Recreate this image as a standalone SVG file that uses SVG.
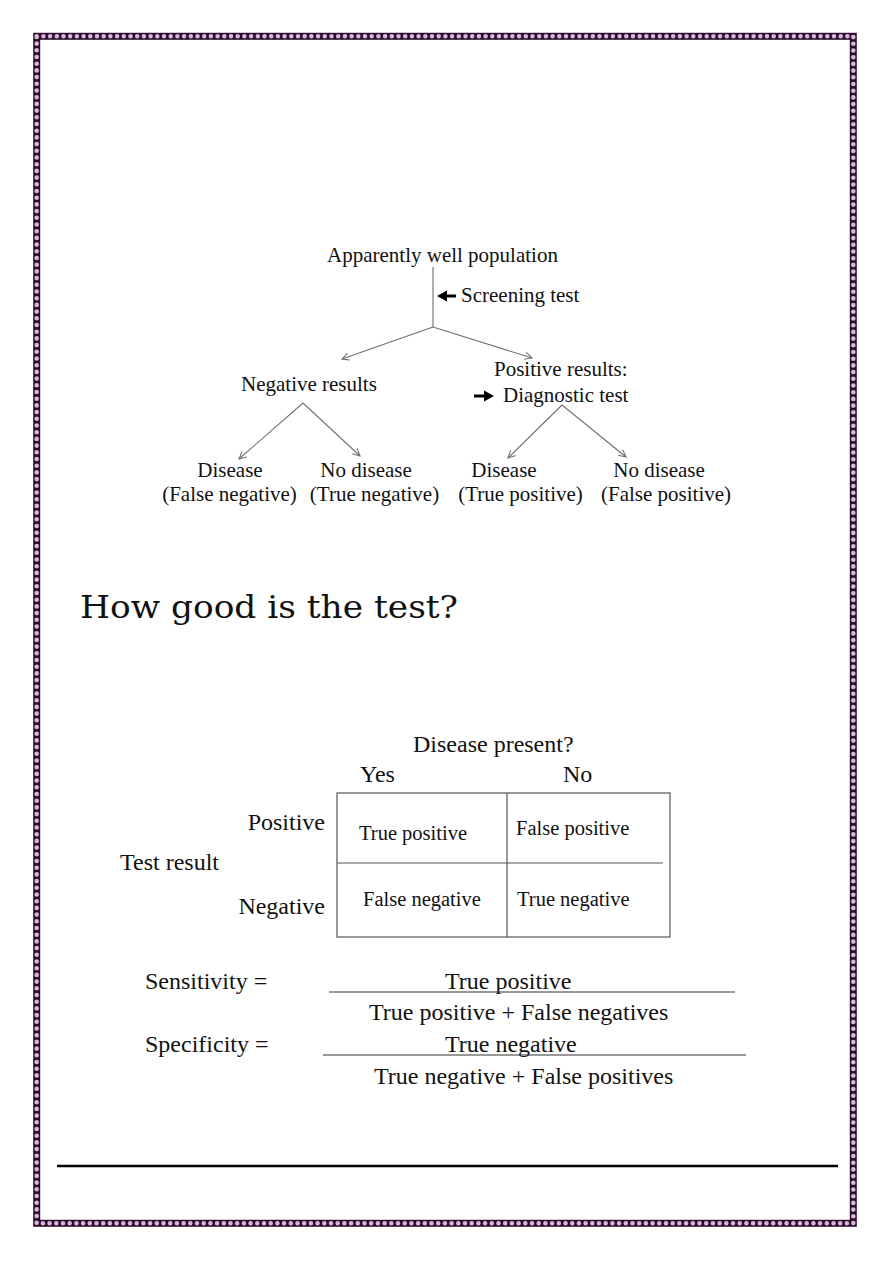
<svg xmlns="http://www.w3.org/2000/svg" width="893" height="1263" viewBox="0 0 893 1263">
<style>
.t{font-family:"Liberation Serif","Times New Roman",serif;fill:#111}
.s21{font-size:21px}
.s24{font-size:24px}
.s20{font-size:20.5px}
.m{text-anchor:middle}
.e{text-anchor:end}
.br{stroke:#707070;stroke-width:1.1;fill:none}
.tb{stroke:#555;stroke-width:1.2;fill:none}
.fr{stroke:#333;stroke-width:1.2;fill:none}
</style>
<defs>
<marker id="ah" viewBox="0 0 10 10" refX="9" refY="5" markerWidth="9" markerHeight="9" markerUnits="userSpaceOnUse" orient="auto">
<path d="M1,1 L9,5 L1,9" fill="none" stroke="#707070" stroke-width="1.2"/>
</marker>
</defs>
<rect width="893" height="1263" fill="#fff"/>
<g id="border">
<rect x="36.7" y="36.3" width="816.6" height="1187" fill="none" stroke="#2b0d2b" stroke-width="7"/>
<rect x="36.7" y="36.3" width="816.6" height="1187" fill="none" stroke="#d8b6dc" stroke-width="4.6" stroke-linecap="round" stroke-dasharray="0 6.7"/>
</g>
<g id="connectors">
<line class="br" x1="433" y1="267" x2="433" y2="327"/>
<line class="br" x1="433" y1="327" x2="342" y2="359" marker-end="url(#ah)"/>
<line class="br" x1="433" y1="327" x2="532" y2="358" marker-end="url(#ah)"/>
<line class="br" x1="303" y1="403" x2="239" y2="459" marker-end="url(#ah)"/>
<line class="br" x1="303" y1="403" x2="360" y2="456" marker-end="url(#ah)"/>
<line class="br" x1="562" y1="405" x2="508" y2="458" marker-end="url(#ah)"/>
<line class="br" x1="562" y1="405" x2="626" y2="457" marker-end="url(#ah)"/>
<path d="M456,296 H445" stroke="#000" stroke-width="3"/>
<path d="M437,296 L447,290.5 L447,301.5 Z" fill="#000"/>
<path d="M474,396 H485" stroke="#000" stroke-width="3"/>
<path d="M494,396 L484,390.5 L484,401.5 Z" fill="#000"/>
</g>
<g id="n-population"><text class="t s21" x="327" y="262">Apparently well population</text></g>
<g id="n-screening"><text class="t s21" x="461" y="302">Screening test</text></g>
<g id="n-negative"><text class="t s21" x="241" y="391">Negative results</text></g>
<g id="n-positive"><text class="t s21" x="494" y="376">Positive results:</text><text class="t s21" x="503" y="402">Diagnostic test</text></g>
<g id="n-fn"><text class="t s21 m" x="230" y="477">Disease</text><text class="t s21 m" x="229.5" y="501">(False negative)</text></g>
<g id="n-tn"><text class="t s21 m" x="366" y="477">No disease</text><text class="t s21 m" x="374.5" y="501">(True negative)</text></g>
<g id="n-tp"><text class="t s21 m" x="504" y="477">Disease</text><text class="t s21 m" x="520.5" y="501">(True positive)</text></g>
<g id="n-fp"><text class="t s21 m" x="659" y="477">No disease</text><text class="t s21 m" x="666" y="501">(False positive)</text></g>
<g id="heading"><text x="80" y="618" textLength="378" lengthAdjust="spacingAndGlyphs" style="font-family:'DejaVu Serif','Liberation Serif',serif;font-size:31px;fill:#111">How good is the test?</text></g>
<g id="table">
<text class="t s24" x="413" y="752">Disease present?</text>
<text class="t s24" x="360" y="782">Yes</text>
<text class="t s24" x="563" y="782">No</text>
<text class="t s24 e" x="325" y="830">Positive</text>
<text class="t s24" x="120" y="870">Test result</text>
<text class="t s24 e" x="325" y="914">Negative</text>
<rect class="tb" x="337" y="793" width="333" height="144"/>
<line class="tb" x1="507" y1="793" x2="507" y2="937"/>
<line class="tb" x1="337" y1="863" x2="663" y2="863"/>
<text class="t s20" x="359" y="840">True positive</text>
<text class="t s20" x="516" y="835">False positive</text>
<text class="t s20" x="363" y="906">False negative</text>
<text class="t s20" x="517" y="906">True negative</text>
</g>
<g id="sensitivity">
<text class="t s24" x="145" y="989">Sensitivity =</text>
<text class="t s24" x="445" y="989">True positive</text>
<line class="fr" x1="329" y1="992" x2="735" y2="992"/>
<text class="t s24" x="369" y="1020">True positive + False negatives</text>
</g>
<g id="specificity">
<text class="t s24" x="145" y="1052">Specificity =</text>
<text class="t s24" x="445" y="1052">True negative</text>
<line class="fr" x1="323" y1="1055" x2="746" y2="1055"/>
<text class="t s24" x="374" y="1084">True negative + False positives</text>
</g>
<g id="footer-rule"><line x1="57" y1="1166" x2="838" y2="1166" stroke="#000" stroke-width="2.5"/></g>
</svg>
